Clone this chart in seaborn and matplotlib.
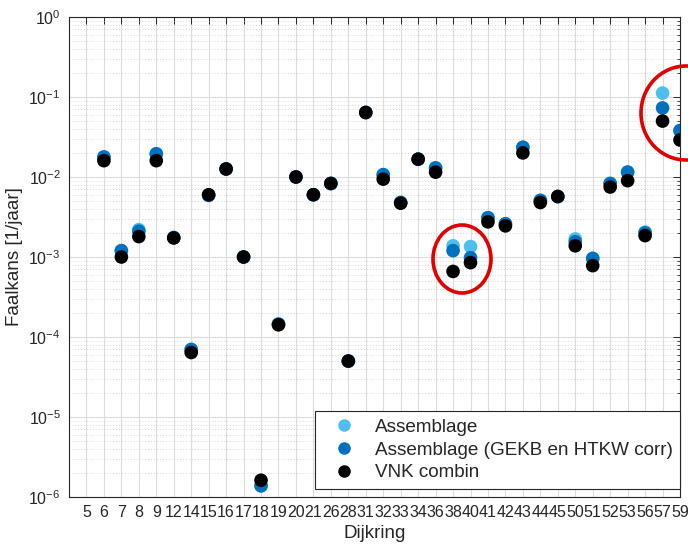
"""
Faalkans per dijkring: Assemblage vs VNK combin (log scale scatter).
"""

import numpy as np
import pandas as pd
import matplotlib
matplotlib.use("Agg")
import matplotlib.pyplot as plt
from matplotlib.lines import Line2D
from matplotlib.patches import Ellipse
import seaborn as sns

# ── Data ───────────────────────────────────────────────────────────────────────
DIJKRING = ["5", "6", "7", "8", "9", "12", "14", "15", "16", "17", "18", "19",
            "20", "21", "26", "28", "31", "32", "33", "34", "36", "38", "40",
            "41", "42", "43", "44", "45", "50", "51", "52", "53", "56", "57", "59"]

ASSEMBLAGE = [np.nan, 1.78e-2, 1.2e-3, 2.2e-3, 1.95e-2, 1.75e-3, 6.9e-5, 5.9e-3,
              1.26e-2, 1.0e-3, 1.38e-6, 1.45e-4, 1.0e-2, 6.0e-3, 8.3e-3, 5.0e-5,
              6.4e-2, 1.07e-2, 4.8e-3, 1.67e-2, 1.3e-2, 1.38e-3, 1.35e-3, 3.1e-3,
              2.6e-3, 2.35e-2, 5.1e-3, 5.7e-3, 1.68e-3, 9.6e-4, 8.3e-3, 1.15e-2,
              2.05e-3, 1.12e-1, 3.8e-2]

ASSEMBLAGE_CORR = [np.nan, 1.78e-2, 1.2e-3, 2.1e-3, 1.95e-2, 1.75e-3, 7.0e-5, 5.9e-3,
                   1.26e-2, 1.0e-3, 1.38e-6, 1.45e-4, 1.0e-2, 6.0e-3, 8.3e-3, 5.0e-5,
                   6.4e-2, 1.07e-2, 4.8e-3, 1.67e-2, 1.3e-2, 1.2e-3, 9.8e-4, 3.1e-3,
                   2.6e-3, 2.35e-2, 5.1e-3, 5.7e-3, 1.55e-3, 9.6e-4, 8.3e-3, 1.15e-2,
                   2.0e-3, 7.3e-2, 3.8e-2]

VNK_COMBIN = [np.nan, 1.6e-2, 1.0e-3, 1.8e-3, 1.6e-2, 1.73e-3, 6.4e-5, 6.0e-3,
              1.26e-2, 1.0e-3, 1.62e-6, 1.42e-4, 1.0e-2, 6.0e-3, 8.3e-3, 5.0e-5,
              6.4e-2, 9.4e-3, 4.7e-3, 1.67e-2, 1.15e-2, 6.6e-4, 8.5e-4, 2.75e-3,
              2.45e-3, 2.0e-2, 4.8e-3, 5.7e-3, 1.38e-3, 7.8e-4, 7.5e-3, 9.0e-3,
              1.85e-3, 5.0e-2, 2.9e-2]

SERIES = ["Assemblage", "Assemblage (GEKB en HTKW corr)", "VNK combin"]
COLORS = ["#4DBEEE", "#0072BD", "#000000"]

# ── Style ──────────────────────────────────────────────────────────────────────
DARK = "#262626"
sns.set_style("white")
plt.rcParams.update({
    "font.family": ["Liberation Sans", "DejaVu Sans"],
    "axes.edgecolor": DARK,
    "axes.linewidth": 0.8,
    "xtick.color": DARK,
    "ytick.color": DARK,
    "xtick.direction": "in",
    "ytick.direction": "in",
    "xtick.top": True,
    "ytick.right": True,
    "text.color": DARK,
    "axes.labelcolor": DARK,
})

df = pd.DataFrame({
    "Dijkring": DIJKRING * 3,
    "Faalkans": ASSEMBLAGE + ASSEMBLAGE_CORR + VNK_COMBIN,
    "Reeks": sum([[s] * len(DIJKRING) for s in SERIES], []),
}).dropna()

fig = plt.figure(figsize=(6.88, 5.5), dpi=100)
ax = fig.add_axes([69 / 688, 1 - 497 / 550, (680 - 69) / 688, (497 - 17) / 550])

sns.stripplot(data=df, x="Dijkring", y="Faalkans", hue="Reeks",
              order=DIJKRING, hue_order=SERIES, palette=COLORS,
              jitter=False, dodge=False, size=9.8, linewidth=0,
              legend=False, ax=ax, zorder=3)

ax.set_yscale("log")
ax.set_ylim(1e-6, 1)
ax.set_xlim(-1, len(DIJKRING) - 1)
ax.set_xticks(range(len(DIJKRING)))
ax.set_xticklabels(DIJKRING)
ax.tick_params(axis="both", which="major", labelsize=11.5, length=5, width=0.7, pad=6)
ax.tick_params(axis="y", which="minor", length=2.5, width=0.6)
ax.tick_params(axis="x", which="minor", bottom=False, top=False)

ax.grid(True, which="major", color="#dcdcdc", linewidth=0.8)
ax.grid(True, which="minor", axis="y", color="#cccccc", linestyle=(0, (1, 2.5)), linewidth=0.6)
ax.set_axisbelow(True)
for s in ax.spines.values():
    s.set_visible(True)

ax.set_xlabel("Dijkring", fontsize=13.5, labelpad=3)
ax.set_ylabel("Faalkans [1/jaar]", fontsize=13.5, labelpad=4)

handles = [Line2D([], [], linestyle="none", marker="o", markersize=9, color=c,
                  markeredgewidth=0) for c in COLORS]
leg = ax.legend(handles, SERIES, loc="lower right", bbox_to_anchor=(1.0, 8 / 480),
                borderaxespad=0, fontsize=13.6, frameon=True, fancybox=False,
                framealpha=1, edgecolor=DARK, labelspacing=0.3,
                handlelength=2.3, handletextpad=0.45, borderpad=0.4)
leg.get_frame().set_linewidth(0.8)
leg.set_zorder(5)

# red highlight ellipses (in figure pixels)
for cx, cy, w, h in [(462, 259, 58, 68), (686, 113, 90, 94)]:
    fig.add_artist(Ellipse((cx / 688, 1 - cy / 550), w / 688, h / 550,
                           transform=fig.transFigure, fill=False,
                           edgecolor="#e00000", linewidth=2.6, clip_on=False))

fig.savefig("out.png", dpi=100)
